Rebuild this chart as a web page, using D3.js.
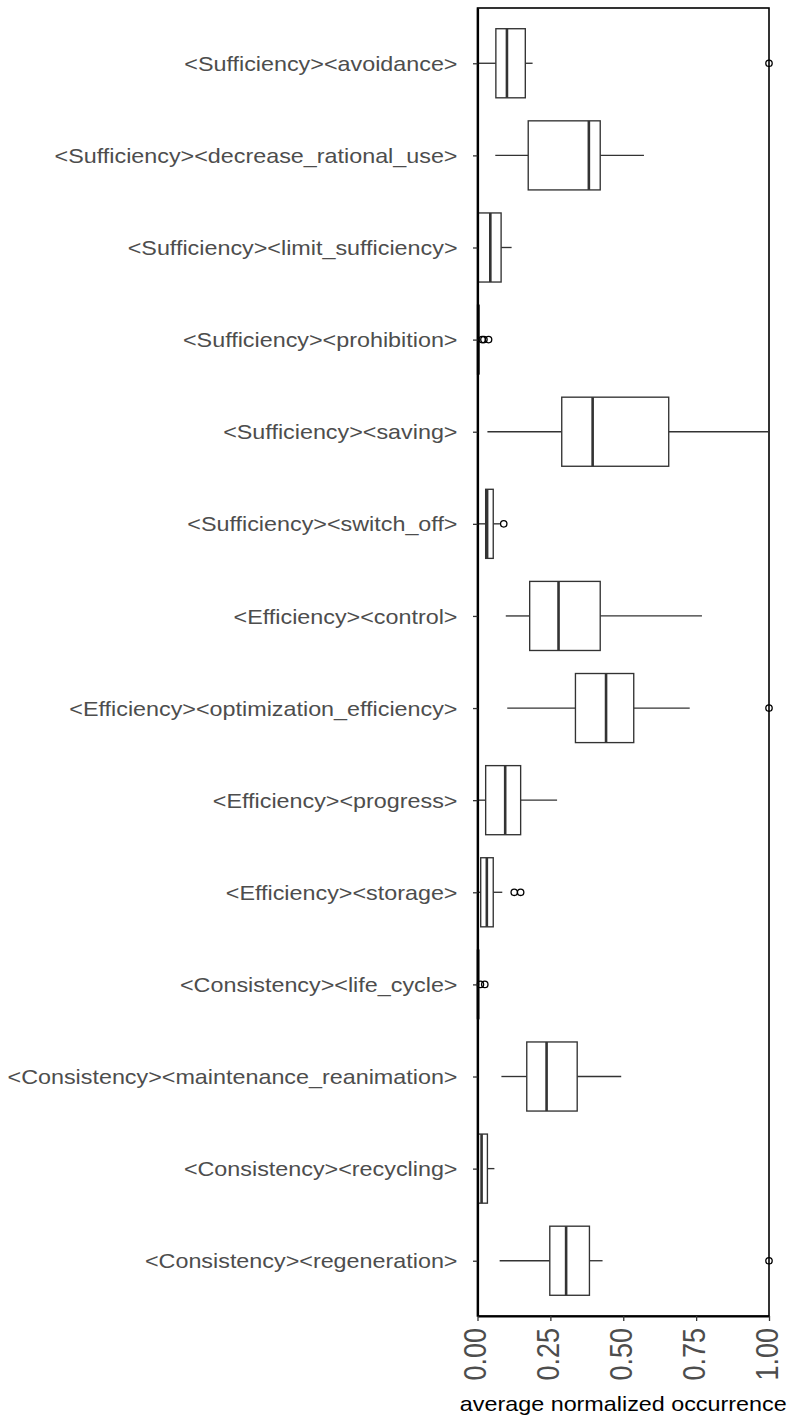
<!DOCTYPE html>
<html>
<head>
<meta charset="utf-8">
<script src="https://cdn.jsdelivr.net/npm/d3@7"></script>
<style>
  body { margin: 0; background: #fff; }
  svg { display: block; font-family: "Liberation Sans", Arial, sans-serif; }
</style>
</head>
<body>
<script>
// categories, top to bottom
const categories = [
  "<Sufficiency><avoidance>",
  "<Sufficiency><decrease_rational_use>",
  "<Sufficiency><limit_sufficiency>",
  "<Sufficiency><prohibition>",
  "<Sufficiency><saving>",
  "<Sufficiency><switch_off>",
  "<Efficiency><control>",
  "<Efficiency><optimization_efficiency>",
  "<Efficiency><progress>",
  "<Efficiency><storage>",
  "<Consistency><life_cycle>",
  "<Consistency><maintenance_reanimation>",
  "<Consistency><recycling>",
  "<Consistency><regeneration>"
];

// box statistics
const whiskerLow  = [0.000, 0.061, 0.000, 0.000, 0.034, 0.000, 0.097, 0.102, 0.000, 0.000, 0.000, 0.082, 0.000, 0.076];
const q1          = [0.063, 0.174, 0.003, 0.000, 0.289, 0.028, 0.179, 0.336, 0.028, 0.011, 0.000, 0.169, 0.003, 0.248];
const median      = [0.101, 0.382, 0.044, 0.003, 0.395, 0.033, 0.278, 0.441, 0.095, 0.032, 0.002, 0.237, 0.014, 0.304];
const q3          = [0.164, 0.421, 0.081, 0.005, 0.656, 0.054, 0.421, 0.536, 0.148, 0.054, 0.004, 0.342, 0.034, 0.384];
const whiskerHigh = [0.189, 0.571, 0.117, 0.008, 1.000, 0.077, 0.770, 0.728, 0.273, 0.085, 0.006, 0.493, 0.058, 0.429];
const outliers = [
  [1.0], [], [], [0.016, 0.022, 0.038], [], [0.090], [], [1.0], [],
  [0.126, 0.148], [0.010, 0.025], [], [], [1.0]
];

const xTicks = [0, 0.25, 0.5, 0.75, 1];

const W = 790, H = 1425;
const mLeft = 477.5, mRight = 769, mTop = 8, mBottom = 1316;
const sx = 1.15; // horizontal stretch of the text in the original

const svg = d3.select("body").append("svg")
  .attr("width", W).attr("height", H);

const x = d3.scaleLinear().domain([0, 1]).range([mLeft, mRight]);
const y = d3.scalePoint().domain(categories).range([mTop, mBottom]).padding(0.6);
const boxH = y.step() * 0.75;

// panel border
svg.append("rect")
  .attr("x", mLeft).attr("y", mTop)
  .attr("width", mRight - mLeft).attr("height", mBottom - mTop)
  .attr("fill", "none").attr("stroke", "#000").attr("stroke-width", 1.6);

const rows = categories.map((c, i) => ({
  c, lo: whiskerLow[i], q1: q1[i], med: median[i], q3: q3[i], hi: whiskerHigh[i], out: outliers[i]
}));

const g = svg.append("g");
const row = g.selectAll("g.row").data(rows).enter().append("g").attr("class", "row");

// whiskers
row.append("line")
  .attr("x1", d => x(d.lo)).attr("x2", d => x(d.q1))
  .attr("y1", d => y(d.c)).attr("y2", d => y(d.c))
  .attr("stroke", "#333").attr("stroke-width", 1.35);
row.append("line")
  .attr("x1", d => x(d.q3)).attr("x2", d => x(d.hi))
  .attr("y1", d => y(d.c)).attr("y2", d => y(d.c))
  .attr("stroke", "#333").attr("stroke-width", 1.35);

// boxes
row.append("rect")
  .attr("x", d => x(d.q1)).attr("width", d => Math.max(0.5, x(d.q3) - x(d.q1)))
  .attr("y", d => y(d.c) - boxH / 2).attr("height", boxH)
  .attr("fill", "#fff").attr("stroke", "#333").attr("stroke-width", 1.35);

// medians
row.append("line")
  .attr("x1", d => x(d.med)).attr("x2", d => x(d.med))
  .attr("y1", d => y(d.c) - boxH / 2).attr("y2", d => y(d.c) + boxH / 2)
  .attr("stroke", "#333").attr("stroke-width", 2.6);

// outliers
row.selectAll("circle").data(d => d.out.map(v => ({ v, c: d.c }))).enter().append("circle")
  .attr("cx", d => x(d.v)).attr("cy", d => y(d.c)).attr("r", 3.2)
  .attr("fill", "none").attr("stroke", "#000").attr("stroke-width", 1.3);

// axes
const yAxis = svg.append("g")
  .attr("transform", `translate(${mLeft},0)`)
  .call(d3.axisLeft(y).tickSize(4.5).tickSizeOuter(0));
yAxis.select(".domain").attr("stroke", "#000").attr("stroke-width", 2.2);
yAxis.selectAll(".tick line").attr("stroke", "#333").attr("stroke-width", 1.3);
yAxis.selectAll(".tick text")
  .attr("x", 0).attr("dy", "0.35em")
  .attr("transform", `translate(-20,0) scale(${sx},1)`)
  .attr("text-anchor", "end")
  .attr("fill", "#4d4d4d").attr("font-size", 20.3)
  .attr("font-family", "'Liberation Sans', Arial, sans-serif");

const xAxis = svg.append("g")
  .attr("transform", `translate(0,${mBottom})`)
  .call(d3.axisBottom(x).tickValues(xTicks).tickFormat(d3.format(".2f")).tickSize(5).tickSizeOuter(0));
xAxis.select(".domain").attr("stroke", "#000").attr("stroke-width", 2.2);
xAxis.selectAll(".tick line").attr("stroke", "#333").attr("stroke-width", 1.3);
xAxis.selectAll(".tick text")
  .attr("x", 0).attr("y", 0).attr("dy", "0.36em")
  .attr("transform", `translate(-3,12) scale(${sx},1) rotate(-90)`)
  .attr("text-anchor", "end")
  .attr("fill", "#4d4d4d").attr("font-size", 27)
  .attr("font-family", "'Liberation Sans', Arial, sans-serif");

// x title
svg.append("text")
  .attr("transform", `translate(${(mLeft + mRight) / 2},1411) scale(${sx},1)`)
  .attr("text-anchor", "middle")
  .attr("font-size", 20.3).attr("fill", "#000")
  .text("average normalized occurrence");
</script>
</body>
</html>
